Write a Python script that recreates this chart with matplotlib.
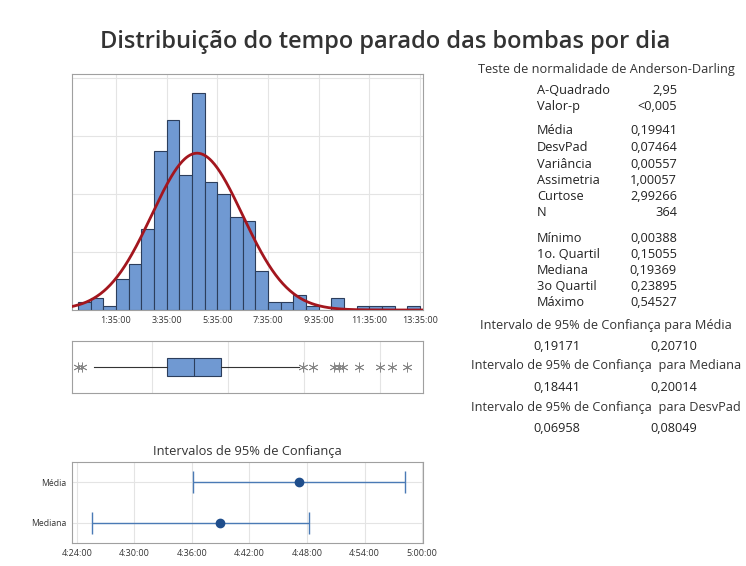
import numpy as np
import matplotlib
matplotlib.use("Agg")
import matplotlib.pyplot as plt
from matplotlib.ticker import FuncFormatter

plt.rcParams['font.family'] = ['Open Sans', 'DejaVu Sans']

# histogram data (values in days)
bin_start = 5 / 1440          # 0:05:00
bin_width = 30 / 1440         # 30 minutes
bin_counts = [2, 3, 1, 8, 12, 21, 41, 49, 35, 56, 33, 30, 24, 23, 10,
              2, 2, 4, 1, 0, 3, 0, 1, 1, 1, 0, 1]
n_obs = 364
mean = 0.19941
sd = 0.07464
hist_ticks = ["1:35:00", "3:35:00", "5:35:00", "7:35:00", "9:35:00", "11:35:00", "13:35:00"]

# boxplot data
q1, med, q3 = 0.15055, 0.19369, 0.23895
whisk_lo, whisk_hi = 0.0292, 0.3669
outliers = [0.00388, 0.0100, 0.3735, 0.3900, 0.4239, 0.4320, 0.4390,
            0.4650, 0.5008, 0.5200, 0.54527]

# confidence intervals
ci_names = ["Média", "Mediana"]
ci_center = [0.19941, 0.19369]
ci_low = [0.19171, 0.18441]
ci_high = [0.20710, 0.20014]
ci_ticks = ["4:24:00", "4:30:00", "4:36:00", "4:42:00", "4:48:00", "4:54:00", "5:00:00"]

# summary table
stats_a = [("A-Quadrado", "2,95"), ("Valor-p", "<0,005")]
stats_b = [("Média", "0,19941"), ("DesvPad", "0,07464"), ("Variância", "0,00557"),
           ("Assimetria", "1,00057"), ("Curtose", "2,99266"), ("N", "364")]
stats_c = [("Mínimo", "0,00388"), ("1o. Quartil", "0,15055"), ("Mediana", "0,19369"),
           ("3o Quartil", "0,23895"), ("Máximo", "0,54527")]
ci_rows = [("Intervalo de 95% de Confiança para Média", "0,19171", "0,20710"),
           ("Intervalo de 95% de Confiança  para Mediana", "0,18441", "0,20014"),
           ("Intervalo de 95% de Confiança  para DesvPad", "0,06958", "0,08049")]


def to_days(s):
    h, m, sec = [int(p) for p in s.split(":")]
    return (h * 3600 + m * 60 + sec) / 86400


def fmt_time(v, pos=None):
    t = int(round(v * 86400))
    return "%d:%02d:%02d" % (t // 3600, (t % 3600) // 60, t % 60)


W, H = 746, 566
fig = plt.figure(figsize=(W / 100, H / 100), dpi=100)


def px_axes(left, top, right, bottom):
    return fig.add_axes([left / W, 1 - bottom / H, (right - left) / W, (bottom - top) / H])


grid_c = "#e4e4e4"
spine_c = "#a0a0a0"
bar_c = "#7099d2"
txt_c = "#333333"

fig.text(385, H - 42, "Distribuição do tempo parado das bombas por dia",
         transform=None, ha="center", va="center", fontsize=17, fontweight="semibold",
         color=txt_c)

# --- histogram
ax = px_axes(72, 74, 423, 310)
edges = bin_start + bin_width * np.arange(len(bin_counts) + 1)
ax.bar(edges[:-1], bin_counts, width=bin_width, align="edge",
       color=bar_c, edgecolor="#2c3e5c", linewidth=0.8, zorder=2)
xs = np.linspace(-0.01, 0.58, 400)
pdf = n_obs * bin_width / (sd * np.sqrt(2 * np.pi)) * np.exp(-0.5 * ((xs - mean) / sd) ** 2)
ax.plot(xs, pdf, color="#a3161e", linewidth=2, zorder=3)
ax.set_xlim(-0.0064, 0.571)
ax.set_ylim(0, 61)
ax.set_xticks([to_days(t) for t in hist_ticks])
ax.xaxis.set_major_formatter(FuncFormatter(fmt_time))
ax.set_yticks([15, 30, 45, 60])
ax.set_yticklabels([])
ax.grid(True, color=grid_c, linewidth=0.8, zorder=0)
ax.set_axisbelow(True)
ax.tick_params(length=0, labelsize=6.5, labelcolor=txt_c, pad=4)
for s in ax.spines.values():
    s.set_color(spine_c)

# --- boxplot
axb = px_axes(72, 341, 423, 393)
axb.bxp([{"med": med, "q1": q1, "q3": q3, "whislo": whisk_lo, "whishi": whisk_hi,
          "fliers": outliers}],
        positions=[1], widths=0.35, vert=False, showcaps=False, patch_artist=True,
        boxprops=dict(facecolor=bar_c, edgecolor="#2c3e5c", linewidth=0.8),
        medianprops=dict(color="#2c3e5c", linewidth=0.8),
        whiskerprops=dict(color="#333333", linewidth=0.8),
        flierprops=dict(marker=(6, 2, 0), markersize=7, markeredgecolor="#888888",
                        markeredgewidth=0.6))
axb.set_xlim(-0.0064, 0.571)
axb.set_ylim(0.5, 1.5)
axb.set_xticks([0.125, 0.25, 0.375, 0.5])
axb.set_yticks([])
axb.set_xticklabels([])
axb.tick_params(length=0)
axb.grid(True, axis="x", color=grid_c, linewidth=0.8)
axb.set_axisbelow(True)
for s in axb.spines.values():
    s.set_color(spine_c)

# --- confidence intervals
axc = px_axes(72, 462, 423, 543)
ypos = [1, 0]
for y, c, lo, hi in zip(ypos, ci_center, ci_low, ci_high):
    axc.errorbar([c], [y], xerr=[[c - lo], [hi - c]], fmt="o", color="#4a7ab5",
                 ecolor="#4a7ab5", elinewidth=1, capsize=8, capthick=1,
                 markersize=6, markerfacecolor="#1f4e8c", markeredgecolor="#1f4e8c")
axc.set_xlim(to_days("4:23:30"), to_days("5:00:05"))
axc.set_ylim(-0.5, 1.5)
axc.set_yticks(ypos)
axc.set_yticklabels(ci_names)
axc.set_xticks([to_days(t) for t in ci_ticks])
axc.xaxis.set_major_formatter(FuncFormatter(fmt_time))
axc.grid(True, color=grid_c, linewidth=0.8)
axc.set_axisbelow(True)
axc.tick_params(length=0, labelsize=6.5, labelcolor=txt_c, pad=4)
axc.tick_params(axis="y", labelsize=6.2)
for s in axc.spines.values():
    s.set_color(spine_c)
axc.set_title("Intervalos de 95% de Confiança", fontsize=9.3, color=txt_c, pad=5)

# --- summary text
fs = 9.2
fig.text(606, H - 70, "Teste de normalidade de Anderson-Darling", transform=None,
         ha="center", va="center", fontsize=fs, color=txt_c)
lab_x, val_x = 537, 677
y_rows = [90, 106.5, 131, 147.5, 164, 180.5, 197, 213, 238, 254, 270.5, 286.5, 302.5]
rows = stats_a + stats_b + stats_c
for (lab, val), y in zip(rows, y_rows):
    fig.text(lab_x, H - y, lab, transform=None, ha="left", va="center", fontsize=fs, color="#222222")
    fig.text(val_x, H - y, val, transform=None, ha="right", va="center", fontsize=fs, color="#222222")

for i, (head, v1, v2) in enumerate(ci_rows):
    yh = 325 + i * 41
    fig.text(606, H - yh, head, transform=None, ha="center", va="center", fontsize=fs, color=txt_c)
    fig.text(533, H - (yh + 21.5), v1, transform=None, ha="left", va="center", fontsize=fs, color="#222222")
    fig.text(650, H - (yh + 21.5), v2, transform=None, ha="left", va="center", fontsize=fs, color="#222222")

fig.savefig("out.png", dpi=100)
